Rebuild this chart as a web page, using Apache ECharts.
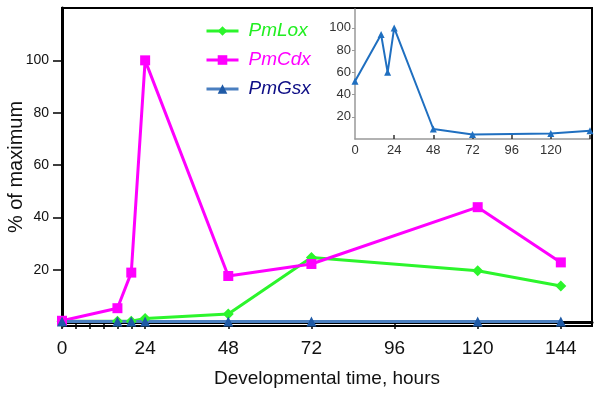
<!DOCTYPE html>
<html>
<head>
<meta charset="utf-8">
<script src="https://cdn.jsdelivr.net/npm/echarts@6/dist/echarts.min.js"></script>
<style>html,body{margin:0;padding:0;background:#fff}#c{width:600px;height:396px}</style>
</head>
<body>
<div id="c"></div>
<script>
const hours = [0, 16, 20, 24, 48, 72, 120, 144];
const pmLox = [0.3, 0.3, 0.3, 1.4, 3.1, 24.7, 19.6, 13.8];
const pmCdx = [0.5, 5.3, 18.9, 100, 17.6, 22.2, 43.9, 22.8];
const pmGsx = [0.2, 0.2, 0.2, 0.2, 0.2, 0.2, 0.2, 0.2];
const pmGsxInset = [52, 94, 60, 100, 9, 4, 5, 7.5];
const xTickLabels = [0, 24, 48, 72, 96, 120, 144];
const xMinorTicks = [4, 8, 12, 16, 20];
const yTickLabels = [20, 40, 60, 80, 100];
const insetXLabels = [0, 24, 48, 72, 96, 120];
const insetYLabels = [20, 40, 60, 80, 100];
const seriesNames = ['PmLox', 'PmCdx', 'PmGsx'];

const pairs = (xs, ys) => xs.map((x, i) => [x, ys[i]]);
const FONT = 'Liberation Sans, Arial, sans-serif';
const GREEN = '#2cf52c', MAGENTA = '#ff00ff', BLUE_LINE = '#4a7fc0', BLUE_SYM = '#1f5aa6', INSET = '#1f6fc0';

const chart = echarts.init(document.getElementById('c'), null, {renderer: 'canvas'});
chart.setOption({
  animation: false,
  backgroundColor: '#fff',
  textStyle: {fontFamily: FONT},
  legend: {
    orient: 'vertical', left: 200, top: 16,
    itemWidth: 32, itemHeight: 12, itemGap: 9,
    lineStyle: {width: 3},
    textStyle: {fontFamily: FONT, fontSize: 19, fontStyle: 'italic', lineHeight: 20, padding: [0, 0, 0, 5]},
    data: [
      {name: seriesNames[0], textStyle: {color: '#22ee22'}},
      {name: seriesNames[1], textStyle: {color: '#ff00ff'}},
      {name: seriesNames[2], textStyle: {color: '#0d0d85'}}
    ]
  },
  grid: [
    {left: 62, right: 8, top: 8, bottom: 70, show: true, borderColor: '#000', borderWidth: 2, backgroundColor: 'transparent', containLabel: false, outerBoundsMode: 'none'},
    {left: 355, right: 10, top: 9, bottom: 257, show: false, containLabel: false, outerBoundsMode: 'none'}
  ],
  xAxis: [
    {
      gridIndex: 0, type: 'value', min: 0, max: 153,
      name: 'Developmental time, hours', nameLocation: 'middle', nameGap: 43, nameMoveOverlap: false,
      nameTextStyle: {fontFamily: FONT, fontSize: 19, color: '#111'},
      axisLine: {show: true, lineStyle: {color: '#000', width: 3}},
      axisTick: {show: true, length: 7, lineStyle: {color: '#000', width: 1.5}, customValues: xTickLabels.concat(xMinorTicks)},
      axisLabel: {fontFamily: FONT, fontSize: 19, color: '#111', margin: 13, customValues: xTickLabels},
      splitLine: {show: false}
    },
    {
      gridIndex: 1, type: 'value', min: 0, max: 144,
      axisLine: {show: true, lineStyle: {color: '#999', width: 1.5}},
      axisTick: {show: true, inside: true, length: 4, lineStyle: {color: '#333', width: 1.5}, customValues: [24, 48, 72, 96, 120, 144]},
      axisLabel: {fontFamily: FONT, fontSize: 13, color: '#333', margin: 5, customValues: insetXLabels},
      splitLine: {show: false}
    }
  ],
  yAxis: [
    {
      gridIndex: 0, type: 'value', min: -1.5, max: 120,
      name: '% of maximum', nameLocation: 'middle', nameGap: 36, nameRotate: 90, nameMoveOverlap: false,
      nameTextStyle: {fontFamily: FONT, fontSize: 20, color: '#111'},
      axisLine: {show: true, lineStyle: {color: '#000', width: 3}},
      axisTick: {show: true, length: 9, lineStyle: {color: '#000', width: 1.5}, customValues: yTickLabels},
      axisLabel: {fontFamily: FONT, fontSize: 14, color: '#111', margin: 13, customValues: yTickLabels},
      splitLine: {show: false}
    },
    {
      gridIndex: 1, type: 'value', min: 0, max: 117,
      axisLine: {show: true, lineStyle: {color: '#999', width: 1.5}},
      axisTick: {show: true, length: 3, lineStyle: {color: '#999', width: 1}, customValues: insetYLabels},
      axisLabel: {fontFamily: FONT, fontSize: 13, color: '#333', margin: 4, customValues: insetYLabels},
      splitLine: {show: false}
    }
  ],
  series: [
    {
      name: seriesNames[0], type: 'line', xAxisIndex: 0, yAxisIndex: 0,
      data: pairs(hours, pmLox), symbol: 'diamond', symbolSize: 11,
      lineStyle: {color: GREEN, width: 3}, itemStyle: {color: GREEN}
    },
    {
      name: seriesNames[1], type: 'line', xAxisIndex: 0, yAxisIndex: 0,
      data: pairs(hours, pmCdx), symbol: 'rect', symbolSize: 10,
      lineStyle: {color: MAGENTA, width: 3}, itemStyle: {color: MAGENTA}
    },
    {
      name: seriesNames[2], type: 'line', xAxisIndex: 0, yAxisIndex: 0,
      data: pairs(hours, pmGsx), symbol: 'triangle', symbolSize: 10,
      lineStyle: {color: BLUE_LINE, width: 3}, itemStyle: {color: BLUE_SYM}
    },
    {
      name: 'inset', type: 'line', xAxisIndex: 1, yAxisIndex: 1,
      data: pairs(hours, pmGsxInset), symbol: 'triangle', symbolSize: 7,
      lineStyle: {color: INSET, width: 2}, itemStyle: {color: INSET}
    }
  ]
});
</script>
</body>
</html>
